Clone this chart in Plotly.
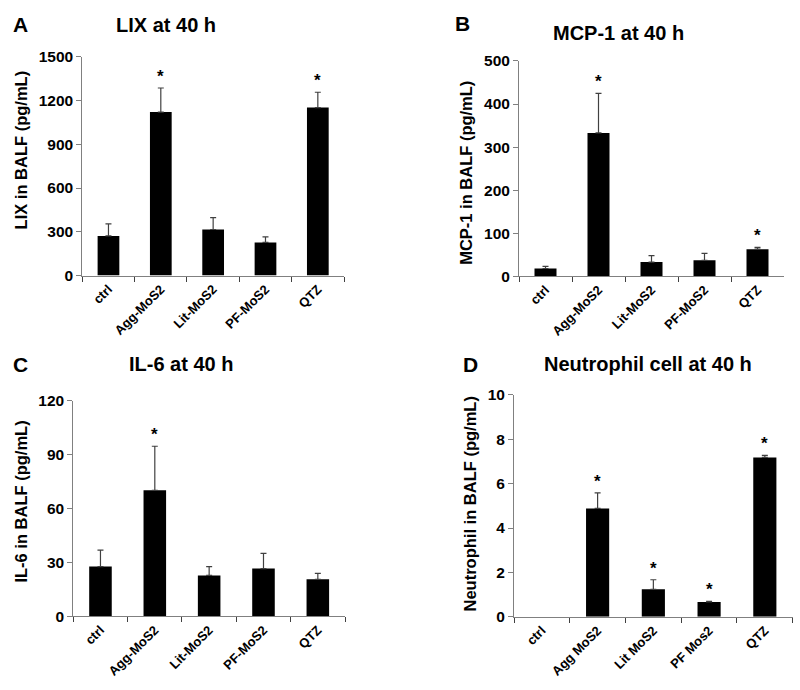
import plotly.graph_objects as go

W, H = 800, 690

# ---- data ----
cats_abc = ["ctrl", "Agg-MoS2", "Lit-MoS2", "PF-MoS2", "QTZ"]
cats_d = ["ctrl", "Agg MoS2", "Lit MoS2", "PF Mos2", "QTZ"]

lix_mean = [272, 1121, 316, 227, 1152]
lix_err = [82, 165, 81, 38, 105]
lix_sig = [False, True, False, False, True]

mcp_mean = [18, 333, 33, 37, 63]
mcp_err = [5, 92, 15, 16, 4]
mcp_sig = [False, True, False, False, True]

il6_mean = [27.7, 70.2, 22.8, 26.6, 20.6]
il6_err = [9.2, 24.5, 4.9, 8.5, 3.3]
il6_sig = [False, True, False, False, False]

neu_mean = [0, 4.88, 1.24, 0.67, 7.18]
neu_err = [0, 0.70, 0.43, 0.03, 0.09]
neu_sig = [False, True, True, True, True]

yticks_a = [0, 300, 600, 900, 1200, 1500]
yticks_b = [0, 100, 200, 300, 400, 500]
yticks_c = [0, 30, 60, 90, 120]
yticks_d = [0, 2, 4, 6, 8, 10]

panels = [
    dict(letter="A", title="LIX at 40 h", ytitle="LIX in BALF (pg/mL)", cats=cats_abc,
         mean=lix_mean, err=lix_err, sig=lix_sig, ticks=yticks_a,
         px=(82.3, 344), py=(273.3, 49),
         letter_xy=(20, 16), title_xy=(166, 16), ytitle_xy=(21, 145)),
    dict(letter="B", title="MCP-1 at 40 h", ytitle="MCP-1 in BALF (pg/mL)", cats=cats_abc,
         mean=mcp_mean, err=mcp_err, sig=mcp_sig, ticks=yticks_b,
         px=(519, 784), py=(274, 53.3),
         letter_xy=(462, 15), title_xy=(618, 25), ytitle_xy=(466, 168)),
    dict(letter="C", title="IL-6 at 40 h", ytitle="IL-6 in BALF (pg/mL)", cats=cats_abc,
         mean=il6_mean, err=il6_err, sig=il6_sig, ticks=yticks_c,
         px=(73.3, 345), py=(622.7, 401.7),
         letter_xy=(20, 364), title_xy=(181, 364), ytitle_xy=(21, 505)),
    dict(letter="D", title="Neutrophil cell at 40 h", ytitle="Neutrophil in BALF (pg/mL)", cats=cats_d,
         mean=neu_mean, err=neu_err, sig=neu_sig, ticks=yticks_d,
         px=(514, 792.7), py=(623.2, 395.5),
         letter_xy=(470, 364), title_xy=(648, 364), ytitle_xy=(470, 508)),
]

FONT = "Liberation Sans, Arial, sans-serif"
fig = go.Figure()
annotations = []
layout_axes = {}

for i, p in enumerate(panels, start=1):
    xa = "x" if i == 1 else f"x{i}"
    ya = "y" if i == 1 else f"y{i}"
    # a zero mean (no cells) is drawn as no bar at all
    ys = [m if m != 0 else None for m in p["mean"]]
    es = [e if m != 0 else None for m, e in zip(p["mean"], p["err"])]
    fig.add_trace(go.Bar(
        x=p["cats"], y=ys, xaxis=xa, yaxis=ya,
        marker=dict(color="black", line=dict(width=0)),
        error_y=dict(type="data", array=es,
                     arrayminus=[0 if e is not None else None for e in es],
                     symmetric=False, color="#404040", thickness=1.2, width=3),
        showlegend=False, hoverinfo="skip",
    ))
    # significance asterisks
    for c, m, e, s in zip(p["cats"], p["mean"], p["err"], p["sig"]):
        if s:
            annotations.append(dict(x=c, y=m + (e or 0), xref=xa, yref=ya, text="*",
                                    showarrow=False, yanchor="bottom", yshift=0,
                                    font=dict(family=FONT, size=17, color="black", weight="bold")))
    x0, x1 = p["px"]
    yb, yt = p["py"]
    xkey = "xaxis" if i == 1 else f"xaxis{i}"
    ykey = "yaxis" if i == 1 else f"yaxis{i}"
    layout_axes[xkey] = dict(
        domain=[x0 / W, x1 / W], anchor=ya, type="category",
        showline=True, linecolor="#808080", linewidth=1,
        ticks="outside", ticklen=5, tickcolor="#404040", tickwidth=1,
        tickson="boundaries", tickangle=-45, showgrid=False, zeroline=False,
        tickfont=dict(family=FONT, size=13, color="black", weight="bold"),
        fixedrange=True,
    )
    layout_axes[ykey] = dict(
        domain=[(H - yb) / H, (H - yt) / H], anchor=xa,
        range=[p["ticks"][0], p["ticks"][-1]], tickvals=p["ticks"],
        showline=True, linecolor="#808080", linewidth=1,
        ticks="outside", ticklen=5, tickcolor="#808080", tickwidth=1,
        showgrid=False, zeroline=False,
        tickfont=dict(family=FONT, size=15.5, color="black", weight="bold"),
        fixedrange=True,
    )
    lx, ly = p["letter_xy"]
    annotations.append(dict(x=lx / W, y=1 - ly / H, xref="paper", yref="paper", text=p["letter"],
                            showarrow=False, xanchor="center", yanchor="middle",
                            font=dict(family=FONT, size=21, color="black", weight="bold")))
    tx, ty = p["title_xy"]
    annotations.append(dict(x=tx / W, y=1 - ty / H, xref="paper", yref="paper", text=p["title"],
                            showarrow=False, xanchor="center", yanchor="middle",
                            font=dict(family=FONT, size=20, color="black", weight="bold")))
    yx, yy = p["ytitle_xy"]
    annotations.append(dict(x=yx / W, y=1 - yy / H, xref="paper", yref="paper", text=p["ytitle"],
                            showarrow=False, xanchor="center", yanchor="middle", textangle=-90,
                            font=dict(family=FONT, size=16.5, color="black", weight="bold")))

fig.update_layout(
    width=W, height=H, margin=dict(l=0, r=0, t=0, b=0),
    paper_bgcolor="white", plot_bgcolor="white",
    bargap=0.585, annotations=annotations, **layout_axes,
)

fig.write_html("out.html", config={"displayModeBar": False},
               post_script="document.body.style.margin='0';document.body.style.overflow='hidden';")
